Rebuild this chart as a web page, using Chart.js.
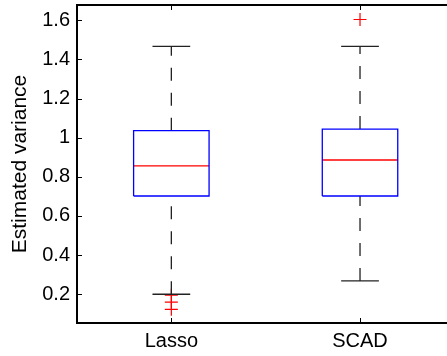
<!DOCTYPE html>
<html>
<head>
<meta charset="utf-8">
<script src="https://cdn.jsdelivr.net/npm/chart.js@4.4.0/dist/chart.umd.min.js"></script>
<style>
  html, body { margin: 0; padding: 0; background: #fff; }
  #wrap { width: 447px; height: 356px; }
</style>
</head>
<body>
<div id="wrap"><canvas id="grafico-boxplot" width="447" height="356"></canvas></div>
<script>
// valores
const categorias = ['Lasso', 'SCAD'];
const posicoes = [1, 2];
const quartil1 = [0.702, 0.702];
const medianas = [0.856, 0.886];
const quartil3 = [1.036, 1.044];
const bigodeInferior = [0.200, 0.268];
const bigodeSuperior = [1.467, 1.467];
const outliers = [[0.195, 0.160, 0.123], [1.604]];
const ticksY = [0.2, 0.4, 0.6, 0.8, 1, 1.2, 1.4, 1.6];

const meiaCaixa = 0.2;
const meiaHaste = 0.1;
const fonte = { family: "'Liberation Sans', Arial, sans-serif", size: 20 };

function linha(pontos, cor, largura, tracejado) {
  return {
    type: 'scatter',
    data: pontos,
    showLine: true,
    fill: false,
    borderColor: cor,
    borderWidth: largura,
    borderDash: tracejado || [],
    pointRadius: 0,
    tension: 0
  };
}

const datasets = [];
posicoes.forEach((x, i) => {
  // caixa
  datasets.push(linha([
    { x: x - meiaCaixa, y: quartil1[i] },
    { x: x + meiaCaixa, y: quartil1[i] },
    { x: x + meiaCaixa, y: quartil3[i] },
    { x: x - meiaCaixa, y: quartil3[i] },
    { x: x - meiaCaixa, y: quartil1[i] }
  ], '#0000ff', 1.3));
  // mediana
  datasets.push(linha([
    { x: x - meiaCaixa, y: medianas[i] },
    { x: x + meiaCaixa, y: medianas[i] }
  ], '#ff0000', 1.3));
  // bigodes tracejados
  datasets.push(linha([{ x: x, y: bigodeInferior[i] }, { x: x, y: quartil1[i] }], '#222', 1.3, [13, 12]));
  datasets.push(linha([{ x: x, y: quartil3[i] }, { x: x, y: bigodeSuperior[i] }], '#222', 1.3, [13, 12]));
  // hastes
  datasets.push(linha([{ x: x - meiaHaste, y: bigodeInferior[i] }, { x: x + meiaHaste, y: bigodeInferior[i] }], '#222', 1.3));
  datasets.push(linha([{ x: x - meiaHaste, y: bigodeSuperior[i] }, { x: x + meiaHaste, y: bigodeSuperior[i] }], '#222', 1.3));
  // outliers
  datasets.push({
    type: 'scatter',
    data: outliers[i].map(v => ({ x: x, y: v })),
    pointStyle: 'cross',
    pointRadius: 6.5,
    pointBorderColor: '#ff0000',
    pointBackgroundColor: '#ff0000',
    pointBorderWidth: 1.2,
    showLine: false
  });
});

// ticks para dentro, estilo matlab
const ticksInternos = {
  id: 'ticksInternos',
  afterDraw(chart) {
    const ctx = chart.ctx;
    const area = chart.chartArea;
    const sx = chart.scales.x;
    const sy = chart.scales.y;
    ctx.save();
    ctx.strokeStyle = '#000';
    ctx.lineWidth = 1;
    ticksY.forEach(v => {
      const py = Math.round(sy.getPixelForValue(v)) + 0.5;
      ctx.beginPath();
      ctx.moveTo(area.left, py);
      ctx.lineTo(area.left + 5, py);
      ctx.stroke();
    });
    posicoes.forEach(v => {
      const px = Math.round(sx.getPixelForValue(v)) + 0.5;
      ctx.beginPath();
      ctx.moveTo(px, area.bottom);
      ctx.lineTo(px, area.bottom - 5);
      ctx.moveTo(px, area.top);
      ctx.lineTo(px, area.top + 5);
      ctx.stroke();
    });
    ctx.lineWidth = 2;
    ctx.beginPath();
    ctx.moveTo(area.left - 1, area.top);
    ctx.lineTo(area.right, area.top);
    ctx.stroke();
    ctx.restore();
  }
};

const ctx = document.getElementById('grafico-boxplot').getContext('2d');
const grafico = new Chart(ctx, {
  type: 'scatter',
  data: { datasets: datasets },
  options: {
    responsive: false,
    animation: false,
    devicePixelRatio: 1,
    layout: { autoPadding: false, padding: { top: 5, right: 0, left: 0, bottom: 0 } },
    plugins: {
      legend: { display: false },
      tooltip: { enabled: false }
    },
    scales: {
      x: {
        type: 'linear',
        min: 0.5,
        max: 2.461,
        afterBuildTicks: s => { s.ticks = posicoes.map(v => ({ value: v })); },
        afterFit: s => { s.height = 33; s.paddingLeft = 0; s.paddingRight = 0; },
        ticks: {
          color: '#000',
          font: fonte,
          padding: 6,
          maxRotation: 0,
          autoSkip: false,
          callback: (v) => categorias[posicoes.indexOf(v)] || ''
        },
        grid: { display: false, drawTicks: false },
        border: { display: true, color: '#000', width: 2 }
      },
      y: {
        type: 'linear',
        min: 0.053,
        max: 1.678,
        afterBuildTicks: s => { s.ticks = ticksY.map(v => ({ value: v })); },
        afterFit: s => { s.width = 77; s.paddingTop = 0; s.paddingBottom = 0; },
        ticks: {
          color: '#000',
          font: fonte,
          padding: 7,
          callback: (v) => String(+v.toFixed(1))
        },
        title: {
          display: true,
          text: 'Estimated variance',
          color: '#000',
          font: { family: fonte.family, size: 21 },
          padding: { top: 8, bottom: 0 }
        },
        grid: { display: false, drawTicks: false },
        border: { display: true, color: '#000', width: 2 }
      }
    }
  },
  plugins: [ticksInternos]
});
</script>
</body>
</html>
